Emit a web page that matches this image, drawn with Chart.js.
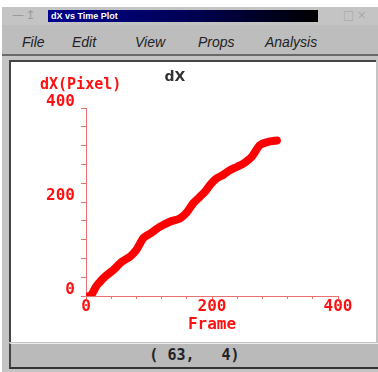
<!DOCTYPE html>
<html>
<head>
<meta charset="utf-8">
<script src="https://cdn.jsdelivr.net/npm/chart.js@4"></script>
<style>
  body { margin: 0; width: 378px; height: 372px; overflow: hidden; position: relative; background: #fff; }
  .abs { position: absolute; }
  #win { left: 2px; top: 7px; width: 376px; height: 365px; background: #c4c4c4; }
  #titlebar { left: 48px; top: 10px; width: 270px; height: 12px;
    background: linear-gradient(to right, #000090, #000050 55%, #000 100%);
    color: #fff; font: bold 9px/12px "Liberation Sans", sans-serif; padding-left: 3px; box-sizing: border-box; }
  .menu { top: 34px; font: italic 14px/16px "Liberation Sans", sans-serif; color: #222; }
  #menubar { left: 2px; top: 25px; width: 376px; height: 29px; background: #bdbdbd; border-bottom: 2px solid #6a6a6a; }
  #panel { left: 9px; top: 60px; width: 367px; height: 282px; background: #fff;
    border-left: 2px solid #444; border-top: 2px solid #444; box-sizing: border-box; }
  #status { left: 9px; top: 343px; width: 369px; height: 26px; background: #bababa;
    border-top: 1px solid #eee; border-left: 2px solid #444; border-bottom: 2px solid #333; box-sizing: border-box;
    font: bold 15px/23px "DejaVu Sans Mono", monospace; color: #222; text-align: center; white-space: pre; }
  #chartBox { left: 12px; top: 64px; }
</style>
</head>
<body>
<div id="win" class="abs"></div>
<div class="abs" style="left:12px;top:8px;font:12px 'DejaVu Sans';color:#9a9a9a;">&#8212;&#8202;&#8613;</div>
<div id="titlebar" class="abs">dX vs Time Plot</div>
<div class="abs" style="left:343px;top:8px;font:12px 'DejaVu Sans';color:#aaa;">&#9633;&#8201;&#215;</div>
<div id="menubar" class="abs"></div>
<div class="abs menu" style="left:22px;">File</div>
<div class="abs menu" style="left:72px;">Edit</div>
<div class="abs menu" style="left:135px;">View</div>
<div class="abs menu" style="left:198px;">Props</div>
<div class="abs menu" style="left:265px;">Analysis</div>
<div id="panel" class="abs"></div>
<div id="chartBox" class="abs"><canvas id="plot" width="362" height="278"></canvas></div>
<div id="status" class="abs">( 63,   4)</div>

<script>
// values
const frames = [5, 9, 15, 20, 30, 43, 57, 70, 80, 91, 102, 117, 133, 149, 160, 170, 180, 189, 198, 207, 218, 229, 240, 250, 263, 276, 289, 303];
const dxValues = [0, 3, 18, 27, 41, 55, 73, 84, 98, 123, 133, 147, 158, 165, 178, 197, 210, 222, 238, 250, 258, 268, 275, 282, 296, 321, 328, 331];
const tickLabels = [0, 200, 400];

const red = '#ff1010';
const axisRed = '#e87070';
const monoFont = { family: 'DejaVu Sans Mono', weight: 'bold', size: 16, lineHeight: 1 };

const labelEvery = v => tickLabels.includes(v) ? String(v) : '';

// horizontal y-axis caption above the axis
const yCaption = {
    id: 'yCaption',
    afterDraw(c) {
        const ctx = c.ctx;
        ctx.save();
        ctx.fillStyle = red;
        ctx.font = 'bold 15px "DejaVu Sans Mono"';
        ctx.textAlign = 'left';
        ctx.textBaseline = 'middle';
        ctx.fillText('dX(Pixel)', c.chartArea.left - 46, c.chartArea.top - 23);
        ctx.restore();
    }
};

const ctx = document.getElementById('plot').getContext('2d');
new Chart(ctx, {
    type: 'line',
    data: {
        datasets: [{
            data: frames.map((f, i) => ({ x: f, y: dxValues[i] })),
            borderColor: '#ff0000',
            borderWidth: 8,
            borderCapStyle: 'round',
            borderJoinStyle: 'round',
            pointRadius: 0,
            tension: 0.25,
            fill: false
        }]
    },
    options: {
        responsive: false,
        animation: false,
        layout: { padding: { top: 0, right: 36, bottom: 0, left: 0 } },
        plugins: {
            legend: { display: false },
            tooltip: { enabled: false },
            title: {
                display: true, text: 'dX', color: '#333',
                font: { family: 'DejaVu Sans', weight: 'bold', size: 14 },
                padding: { top: 4.6, bottom: 22.6 }
            }
        },
        scales: {
            x: {
                type: 'linear', min: 0, max: 400,
                afterFit: s => { s.height = 46; },
                ticks: { stepSize: 40, autoSkip: false, maxRotation: 0, callback: labelEvery, color: red, font: monoFont, padding: 0 },
                grid: { drawOnChartArea: false, tickLength: 3, color: axisRed },
                border: { color: axisRed, width: 1 },
                title: { display: true, text: 'Frame', color: red, font: monoFont, padding: { top: 0, bottom: 9 } }
            },
            y: {
                min: 0, max: 400,
                afterFit: s => { s.width = 74; },
                ticks: { stepSize: 40, autoSkip: false, callback: labelEvery, color: red, font: monoFont, padding: 6, labelOffset: -6 },
                grid: { drawOnChartArea: false, tickLength: 5, color: axisRed },
                border: { color: axisRed, width: 1 }
            }
        }
    },
    plugins: [yCaption]
});
</script>
</body>
</html>
